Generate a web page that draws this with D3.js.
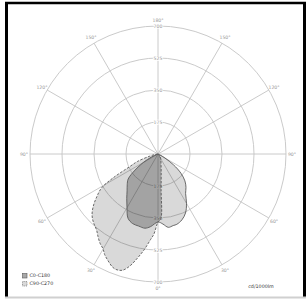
<!DOCTYPE html>
<html>
<head>
<meta charset="utf-8">
<script src="https://cdn.jsdelivr.net/npm/d3@7"></script>
<style>
  body { margin: 0; background: #fff; }
  svg { display: block; }
</style>
</head>
<body>
<div id="chart"></div>
<script>
// Polar intensity diagram, cd/1000lm
var ringValues = [175, 350, 525, 700];
var angleTicks = [0, 30, 60, 90, 120, 150, 180];

// C0-C180 plane (right half C0, left half C180)
var gammaC0 = [0, 4, 8, 12, 15, 20, 25, 30, 35, 40, 45, 50, 55, 60, 65, 70, 90];
var valC0 = [372, 384, 405, 400, 398, 383, 356, 312, 263, 238, 208, 164, 104, 44, 11, 0, 0];
var gammaC180 = [0, 6, 10, 15, 20, 25, 30, 35, 40, 45, 50, 55, 60, 65, 70, 75, 90];
var valC180 = [372, 400, 412, 408, 405, 388, 339, 298, 263, 238, 213, 153, 93, 40, 5, 0, 0];

// C90-C270 plane (right half C90, left half C270)
var gammaC90 = [0, 2.5, 5, 10, 15, 20, 25, 30, 40, 50, 60, 70, 90];
var valC90 = [372, 355, 195, 100, 65, 48, 38, 30, 18, 10, 5, 0, 0];
var gammaC270 = [0, 3, 5, 8, 10, 12, 14, 17, 20, 22, 25, 28, 30, 33, 36, 39, 43, 47, 51, 55, 59, 62, 66, 70, 75, 80, 90];
var valC270 = [372, 440, 470, 525, 560, 595, 630, 665, 672, 666, 645, 622, 600, 582, 558, 534, 516, 493, 456, 409, 360, 278, 168, 120, 50, 20, 0];

var W = 308, H = 305;
var cx = 158, cy = 154, R = 128;

var svg = d3.select("#chart")
  .append("svg")
  .attr("width", W)
  .attr("height", H);

// frame
svg.append("line").attr("x1", 6.5).attr("x2", 6.5).attr("y1", 2).attr("y2", 298)
  .attr("stroke", "#000").attr("stroke-width", 3);
svg.append("line").attr("x1", 5).attr("x2", 306).attr("y1", 3).attr("y2", 3)
  .attr("stroke", "#000").attr("stroke-width", 2.5);
svg.append("line").attr("x1", 304.5).attr("x2", 304.5).attr("y1", 2).attr("y2", 298)
  .attr("stroke", "#000").attr("stroke-width", 3);
svg.append("line").attr("x1", 5).attr("x2", 306).attr("y1", 297.5).attr("y2", 297.5)
  .attr("stroke", "#d0d0d0").attr("stroke-width", 2);

var g = svg.append("g").attr("transform", "translate(" + cx + "," + cy + ")");

var r = d3.scaleLinear().domain([0, 700]).range([0, R]);
var rad = d => d * Math.PI / 180;

// grid: rings
g.selectAll(".ring")
  .data(ringValues)
  .enter()
  .append("circle")
  .attr("r", d => r(d))
  .attr("fill", "none")
  .attr("stroke", "#c4c4c4")
  .attr("stroke-width", 0.9);

// grid: spokes, gamma measured from straight down
var spokes = [];
angleTicks.forEach(t => {
  spokes.push(Math.PI - rad(t));
  if (t > 0 && t < 180) spokes.push(Math.PI + rad(t));
});
g.selectAll(".spoke")
  .data(spokes)
  .enter()
  .append("line")
  .attr("x1", 0).attr("y1", 0)
  .attr("x2", a => R * Math.sin(a))
  .attr("y2", a => -R * Math.cos(a))
  .attr("stroke", "#c4c4c4")
  .attr("stroke-width", 0.9);

// ring value labels on the vertical axis (top and bottom)
var ringLabels = [];
ringValues.forEach(v => { ringLabels.push({ v: v, y: -r(v) }); ringLabels.push({ v: v, y: r(v) }); });
g.selectAll(".rlab")
  .data(ringLabels)
  .enter()
  .append("text")
  .attr("x", 0)
  .attr("y", d => d.y)
  .attr("text-anchor", "middle")
  .attr("dominant-baseline", "central")
  .style("font-family", "DejaVu Sans, sans-serif")
  .style("font-size", "4.6px")
  .style("fill", "#999")
  .style("stroke", "#fff")
  .style("stroke-width", 1.6)
  .style("paint-order", "stroke")
  .text(d => d.v);

// angle labels
var angleLabels = [];
angleTicks.forEach(t => {
  angleLabels.push({ t: t, a: Math.PI - rad(t) });
  if (t > 0 && t < 180) angleLabels.push({ t: t, a: Math.PI + rad(t) });
});
g.selectAll(".alab")
  .data(angleLabels)
  .enter()
  .append("text")
  .attr("x", d => (R + 6) * Math.sin(d.a))
  .attr("y", d => -(R + 6) * Math.cos(d.a))
  .attr("text-anchor", "middle")
  .attr("dominant-baseline", "central")
  .style("font-family", "DejaVu Sans, sans-serif")
  .style("font-size", "4.6px")
  .style("fill", "#999")
  .text(d => d.t + "°");

// build closed curve: right half from 90 down to 0, then left half 0 to 90
function planePoints(gR, vR, gL, vL) {
  var pts = [];
  for (var i = gR.length - 1; i >= 0; i--) pts.push([Math.PI - rad(gR[i]), r(vR[i])]);
  for (var j = 1; j < gL.length; j++) pts.push([Math.PI + rad(gL[j]), r(vL[j])]);
  return pts;
}
var line = d3.lineRadial()
  .angle(d => d[0])
  .radius(d => d[1])
  .curve(d3.curveCatmullRom.alpha(0.5));

var pathC0 = line(planePoints(gammaC0, valC0, gammaC180, valC180)) + "Z";
var pathC90 = line(planePoints(gammaC90, valC90, gammaC270, valC270)) + "Z";

g.append("clipPath").attr("id", "clipC90")
  .append("path").attr("d", pathC90);

// fills
g.append("path").attr("d", pathC90)
  .attr("fill", "#000").attr("fill-opacity", 0.15);
g.append("path").attr("d", pathC0)
  .attr("fill", "#000").attr("fill-opacity", 0.15);
// overlap of both planes shows darker
g.append("path").attr("d", pathC0)
  .attr("clip-path", "url(#clipC90)")
  .attr("fill", "#000").attr("fill-opacity", 0.11);

// outlines
g.append("path").attr("d", pathC90)
  .attr("fill", "none")
  .attr("stroke", "#5a5a5a")
  .attr("stroke-width", 0.9)
  .attr("stroke-dasharray", "2.5,1.5");
g.append("path").attr("d", pathC0)
  .attr("fill", "none")
  .attr("stroke", "#5a5a5a")
  .attr("stroke-width", 0.9);

// legend
var legend = [
  { name: "C0-C180", fill: "#a8a8a8", dash: null },
  { name: "C90-C270", fill: "#d9d9d9", dash: "1,0.8" }
];
var lg = svg.append("g").attr("transform", "translate(22.5,273.5)");
lg.selectAll("rect")
  .data(legend)
  .enter()
  .append("rect")
  .attr("x", 0)
  .attr("y", (d, i) => i * 8)
  .attr("width", 4.5)
  .attr("height", 4.5)
  .attr("fill", d => d.fill)
  .attr("stroke", "#5a5a5a")
  .attr("stroke-width", 0.6)
  .attr("stroke-dasharray", d => d.dash);
lg.selectAll("text")
  .data(legend)
  .enter()
  .append("text")
  .attr("x", 7)
  .attr("y", (d, i) => i * 8 + 2.4)
  .attr("dominant-baseline", "central")
  .style("font-family", "DejaVu Sans, sans-serif")
  .style("font-size", "4.8px")
  .style("fill", "#333")
  .text(d => d.name);

svg.append("text")
  .attr("x", 261)
  .attr("y", 286)
  .attr("text-anchor", "middle")
  .attr("dominant-baseline", "central")
  .style("font-family", "DejaVu Sans, sans-serif")
  .style("font-size", "4.8px")
  .style("fill", "#333")
  .text("cd/1000lm");
</script>
</body>
</html>
